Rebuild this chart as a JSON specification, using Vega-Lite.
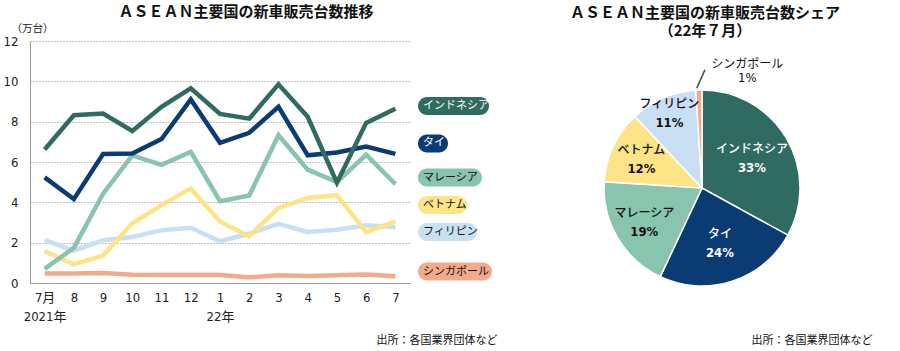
{
  "$schema": "https://vega.github.io/schema/vega-lite/v6.json",
  "autosize": {"type": "none"},
  "padding": {"left": 30, "top": 41, "right": 870, "bottom": 310},
  "background": "white",
  "spacing": 8,
  "bounds": "flush",
  "config": {"view": {"stroke": null}, "font": "Noto Sans CJK JP"},
  "datasets": {
    "sales": [
      {"c": "シンガポール", "m": "21-07", "v": 0.47}, {"c": "シンガポール", "m": "21-08", "v": 0.47}, {"c": "シンガポール", "m": "21-09", "v": 0.49}, {"c": "シンガポール", "m": "21-10", "v": 0.41}, {"c": "シンガポール", "m": "21-11", "v": 0.4}, {"c": "シンガポール", "m": "21-12", "v": 0.4}, {"c": "シンガポール", "m": "22-01", "v": 0.4}, {"c": "シンガポール", "m": "22-02", "v": 0.28}, {"c": "シンガポール", "m": "22-03", "v": 0.38}, {"c": "シンガポール", "m": "22-04", "v": 0.35}, {"c": "シンガポール", "m": "22-05", "v": 0.38}, {"c": "シンガポール", "m": "22-06", "v": 0.42}, {"c": "シンガポール", "m": "22-07", "v": 0.34},
      {"c": "フィリピン", "m": "21-07", "v": 2.13}, {"c": "フィリピン", "m": "21-08", "v": 1.6}, {"c": "フィリピン", "m": "21-09", "v": 2.12}, {"c": "フィリピン", "m": "21-10", "v": 2.28}, {"c": "フィリピン", "m": "21-11", "v": 2.62}, {"c": "フィリピン", "m": "21-12", "v": 2.74}, {"c": "フィリピン", "m": "22-01", "v": 2.07}, {"c": "フィリピン", "m": "22-02", "v": 2.44}, {"c": "フィリピン", "m": "22-03", "v": 2.93}, {"c": "フィリピン", "m": "22-04", "v": 2.53}, {"c": "フィリピン", "m": "22-05", "v": 2.64}, {"c": "フィリピン", "m": "22-06", "v": 2.86}, {"c": "フィリピン", "m": "22-07", "v": 2.76},
      {"c": "ベトナム", "m": "21-07", "v": 1.58}, {"c": "ベトナム", "m": "21-08", "v": 0.92}, {"c": "ベトナム", "m": "21-09", "v": 1.36}, {"c": "ベトナム", "m": "21-10", "v": 2.96}, {"c": "ベトナム", "m": "21-11", "v": 3.86}, {"c": "ベトナム", "m": "21-12", "v": 4.68}, {"c": "ベトナム", "m": "22-01", "v": 3.04}, {"c": "ベトナム", "m": "22-02", "v": 2.32}, {"c": "ベトナム", "m": "22-03", "v": 3.72}, {"c": "ベトナム", "m": "22-04", "v": 4.22}, {"c": "ベトナム", "m": "22-05", "v": 4.36}, {"c": "ベトナム", "m": "22-06", "v": 2.52}, {"c": "ベトナム", "m": "22-07", "v": 3.06},
      {"c": "マレーシア", "m": "21-07", "v": 0.7}, {"c": "マレーシア", "m": "21-08", "v": 1.74}, {"c": "マレーシア", "m": "21-09", "v": 4.43}, {"c": "マレーシア", "m": "21-10", "v": 6.33}, {"c": "マレーシア", "m": "21-11", "v": 5.86}, {"c": "マレーシア", "m": "21-12", "v": 6.5}, {"c": "マレーシア", "m": "22-01", "v": 4.06}, {"c": "マレーシア", "m": "22-02", "v": 4.34}, {"c": "マレーシア", "m": "22-03", "v": 7.33}, {"c": "マレーシア", "m": "22-04", "v": 5.62}, {"c": "マレーシア", "m": "22-05", "v": 5.0}, {"c": "マレーシア", "m": "22-06", "v": 6.36}, {"c": "マレーシア", "m": "22-07", "v": 4.9},
      {"c": "タイ", "m": "21-07", "v": 5.24}, {"c": "タイ", "m": "21-08", "v": 4.16}, {"c": "タイ", "m": "21-09", "v": 6.4}, {"c": "タイ", "m": "21-10", "v": 6.42}, {"c": "タイ", "m": "21-11", "v": 7.14}, {"c": "タイ", "m": "21-12", "v": 9.1}, {"c": "タイ", "m": "22-01", "v": 6.95}, {"c": "タイ", "m": "22-02", "v": 7.45}, {"c": "タイ", "m": "22-03", "v": 8.74}, {"c": "タイ", "m": "22-04", "v": 6.33}, {"c": "タイ", "m": "22-05", "v": 6.47}, {"c": "タイ", "m": "22-06", "v": 6.77}, {"c": "タイ", "m": "22-07", "v": 6.4},
      {"c": "インドネシア", "m": "21-07", "v": 6.62}, {"c": "インドネシア", "m": "21-08", "v": 8.32}, {"c": "インドネシア", "m": "21-09", "v": 8.4}, {"c": "インドネシア", "m": "21-10", "v": 7.54}, {"c": "インドネシア", "m": "21-11", "v": 8.74}, {"c": "インドネシア", "m": "21-12", "v": 9.65}, {"c": "インドネシア", "m": "22-01", "v": 8.38}, {"c": "インドネシア", "m": "22-02", "v": 8.15}, {"c": "インドネシア", "m": "22-03", "v": 9.85}, {"c": "インドネシア", "m": "22-04", "v": 8.24}, {"c": "インドネシア", "m": "22-05", "v": 4.97}, {"c": "インドネシア", "m": "22-06", "v": 7.94}, {"c": "インドネシア", "m": "22-07", "v": 8.64}
    ],
    "labels": [
      {"c": "インドネシア", "y": 8.78},
      {"c": "タイ", "y": 6.92},
      {"c": "マレーシア", "y": 5.23},
      {"c": "ベトナム", "y": 3.87},
      {"c": "フィリピン", "y": 2.53},
      {"c": "シンガポール", "y": 0.57}
    ],
    "share": [
      {"c": "インドネシア", "s": 0.33},
      {"c": "タイ", "s": 0.24},
      {"c": "マレーシア", "s": 0.19},
      {"c": "ベトナム", "s": 0.12},
      {"c": "フィリピン", "s": 0.11},
      {"c": "シンガポール", "s": 0.01}
    ]
  },
  "hconcat": [
    {
      "width": 380,
      "height": 242,
      "title": {"text": "ＡＳＥＡＮ主要国の新車販売台数推移", "fontSize": 15, "fontWeight": "bold", "font": "Noto Sans CJK JP", "anchor": "middle", "dx": 26, "baseline": "bottom", "offset": -12, "color": "#111"},
      "data": {"name": "sales"},
      "mark": {"type": "line", "strokeWidth": 4.5},
      "encoding": {
        "x": {
          "field": "m", "type": "ordinal", "sort": null,
          "scale": {"type": "point", "padding": 0.5},
          "axis": {
            "title": "出所：各国業界団体など", "titleFont": "Noto Sans CJK JP", "titleFontSize": 11, "titleFontWeight": "normal", "titleColor": "#111",
            "titleX": 467, "titleY": 62, "titleAlign": "right", "titleBaseline": "bottom", "titleAnchor": "start",
            "labelAngle": 0,
            "labelExpr": "datum.value == '21-07' ? ['7月', '2021年'] : datum.value == '22-01' ? ['1', '22年'] : '' + toNumber(slice(datum.value, 3))",
            "labelFont": "Liberation Sans Narrow, DejaVu Sans Condensed, Noto Sans CJK JP, sans-serif", "labelFontSize": 13, "labelColor": "#222",
            "labelPadding": 8, "labelLineHeight": 19, "labelBaseline": "top",
            "ticks": false, "domainColor": "#999", "grid": false
          }
        },
        "y": {
          "field": "v", "type": "quantitative", "scale": {"domain": [0, 12]},
          "axis": {
            "values": [0, 2, 4, 6, 8, 10, 12], "grid": true, "gridDash": [1, 2], "gridColor": "#888",
            "ticks": false, "domainColor": "#999",
            "labelFont": "Liberation Sans Narrow, DejaVu Sans Condensed, sans-serif", "labelFontSize": 13, "labelColor": "#222", "labelPadding": 12,
            "title": "（万台）", "titleAngle": 0, "titleAlign": "left", "titleBaseline": "bottom", "titleX": -19, "titleY": -8,
            "titleFontSize": 10.5, "titleFontWeight": "normal", "titleColor": "#222", "titleFont": "Noto Sans CJK JP"
          }
        },
        "color": {
          "field": "c", "type": "nominal", "legend": null,
          "scale": {"domain": ["インドネシア", "タイ", "マレーシア", "ベトナム", "フィリピン", "シンガポール"], "range": ["#2f6b60", "#0b3b73", "#88c4ae", "#fde487", "#c8dff4", "#f2aa8b"]}
        }
      }
    },
    {
      "width": 80,
      "height": 242,
      "data": {"name": "labels"},
      "encoding": {
        "y": {"field": "y", "type": "quantitative", "scale": {"domain": [0, 12]}, "axis": null},
        "x": {
          "datum": 0, "type": "quantitative", "scale": {"domain": [0, 1]},
          "axis": {
            "labels": false, "ticks": false, "domain": false, "grid": false,
            "title": "出所：各国業界団体など", "titleFont": "Noto Sans CJK JP", "titleFontSize": 11, "titleFontWeight": "normal", "titleColor": "#111",
            "titleX": 454, "titleY": 62, "titleAlign": "right", "titleBaseline": "bottom", "titleAnchor": "start"
          }
        }
      },
      "layer": [
        {
          "mark": {"type": "point", "filled": true, "opacity": 1, "size": 4, "strokeWidth": 0},
          "encoding": {
            "color": {
              "field": "c", "type": "nominal", "legend": null,
              "scale": {"domain": ["インドネシア", "タイ", "マレーシア", "ベトナム", "フィリピン", "シンガポール"], "range": ["#2f6b60", "#0b3b73", "#88c4ae", "#fde487", "#c8dff4", "#f2aa8b"]}
            },
            "shape": {
              "field": "c", "type": "nominal", "legend": null,
              "scale": {
                "domain": ["インドネシア", "タイ", "マレーシア", "ベトナム", "フィリピン", "シンガポール"],
                "range": [
                  "M9,-9H62A9,9,0,0,1,62,9H9A9,9,0,0,1,9,-9Z",
                  "M9,-9H21A9,9,0,0,1,21,9H9A9,9,0,0,1,9,-9Z",
                  "M9,-9H55A9,9,0,0,1,55,9H9A9,9,0,0,1,9,-9Z",
                  "M9,-9H40A9,9,0,0,1,40,9H9A9,9,0,0,1,9,-9Z",
                  "M9,-9H50A9,9,0,0,1,50,9H9A9,9,0,0,1,9,-9Z",
                  "M9,-9H65A9,9,0,0,1,65,9H9A9,9,0,0,1,9,-9Z"
                ]
              }
            }
          }
        },
        {
          "mark": {"type": "text", "align": "left", "baseline": "middle", "dx": 5, "fontSize": 11, "font": "Noto Sans CJK JP"},
          "encoding": {
            "text": {"field": "c", "type": "nominal"},
            "color": {"condition": {"test": "datum.c === 'インドネシア' || datum.c === 'タイ'", "value": "white"}, "value": "#111"}
          }
        }
      ]
    },
    {
      "width": 392,
      "height": 294,
      "title": {"text": ["ＡＳＥＡＮ主要国の新車販売台数シェア", "（22年７月）"], "fontSize": 15, "fontWeight": "bold", "font": "Noto Sans CJK JP", "anchor": "middle", "dx": 3, "baseline": "bottom", "offset": -13, "lineHeight": 18, "color": "#111"},
      "data": {"name": "share"},
      "encoding": {
        "theta": {"field": "s", "type": "quantitative", "stack": true},
        "order": {"field": "s", "type": "quantitative", "sort": "descending"},
        "detail": {"field": "c", "type": "nominal"}
      },
      "layer": [
        {
          "mark": {"type": "arc", "outerRadius": 98, "stroke": "white", "strokeWidth": 1.5},
          "encoding": {
            "color": {
              "field": "c", "type": "nominal", "legend": null,
              "scale": {"domain": ["インドネシア", "タイ", "マレーシア", "ベトナム", "フィリピン", "シンガポール"], "range": ["#2f6b60", "#0b3b73", "#88c4ae", "#fde487", "#c8dff4", "#f2aa8b"]}
            }
          }
        },
        {
          "mark": {"type": "text", "fontSize": 12, "fontWeight": 500, "font": "Noto Sans CJK JP", "dy": -9, "radius": {"expr": "datum.c === 'フィリピン' ? 82 : datum.s > 0.2 ? 58 : 67"}},
          "encoding": {
            "text": {"condition": {"test": "datum.c === 'シンガポール'", "value": ""}, "field": "c", "type": "nominal"},
            "color": {"condition": {"test": "datum.s > 0.2", "value": "white"}, "value": "#111"}
          }
        },
        {
          "mark": {"type": "text", "fontSize": 13, "fontWeight": "bold", "font": "Liberation Sans Narrow, DejaVu Sans Condensed, sans-serif", "dy": 10, "radius": {"expr": "datum.c === 'フィリピン' ? 82 : datum.s > 0.2 ? 58 : 67"}},
          "encoding": {
            "text": {"condition": {"test": "datum.c === 'シンガポール'", "value": ""}, "field": "s", "type": "quantitative", "format": ".0%"},
            "color": {"condition": {"test": "datum.s > 0.2", "value": "white"}, "value": "#111"}
          }
        },
        {
          "mark": {"type": "text", "fontSize": 12, "font": "Noto Sans CJK JP", "radius": 118, "dx": 49, "dy": -6, "color": "#111"},
          "encoding": {
            "text": {"condition": {"test": "datum.c !== 'シンガポール'", "value": ""}, "field": "c", "type": "nominal"}
          }
        },
        {
          "mark": {"type": "text", "fontSize": 13, "font": "Liberation Sans Narrow, DejaVu Sans Condensed, sans-serif", "radius": 118, "dx": 49, "dy": 8, "color": "#111"},
          "encoding": {
            "text": {"condition": {"test": "datum.c !== 'シンガポール'", "value": ""}, "field": "s", "type": "quantitative", "format": ".0%"}
          }
        },
        {
          "mark": {"type": "text", "fontSize": 17, "font": "DejaVu Sans", "radius": 109, "dx": 2, "angle": 24, "color": "#333"},
          "encoding": {
            "text": {"condition": {"test": "datum.c === 'シンガポール'", "value": "│"}, "value": ""}
          }
        }
      ]
    }
  ]
}
